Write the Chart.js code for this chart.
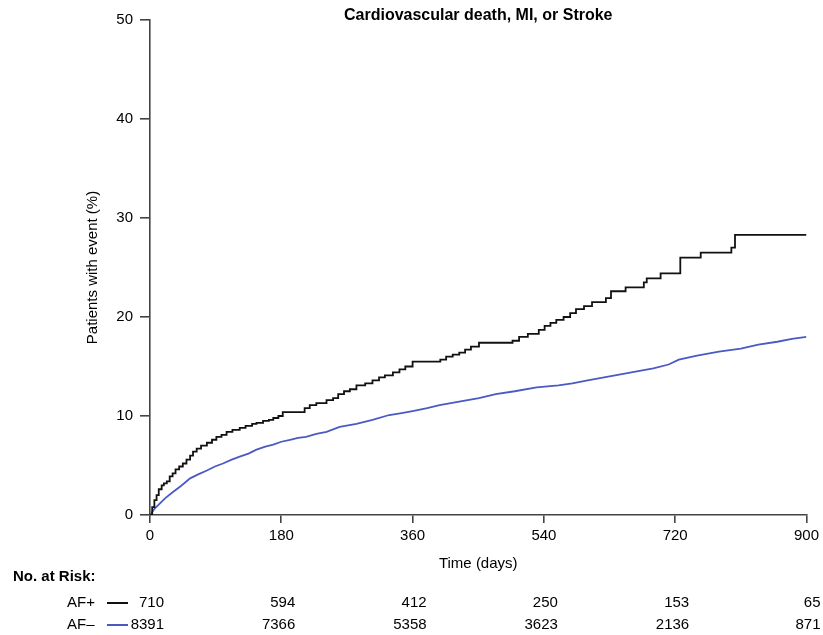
<!DOCTYPE html>
<html>
<head>
<meta charset="utf-8">
<script src="https://cdn.jsdelivr.net/npm/chart.js@4.4.1/dist/chart.umd.min.js"></script>
<style>
    html, body { margin: 0; padding: 0; background: #fff; }
    #wrap { width: 823px; height: 635px; position: relative; }
</style>
</head>
<body>
<div id="wrap"><canvas id="km-chart"></canvas></div>
<script>
(function () {
    "use strict";

    // Data
    const xTicks = [0, 180, 360, 540, 720, 900];
    const groups = ["AF+", "AF–"];

    const afPosDays = [0, 3, 6, 9, 12, 16, 19, 23, 27, 31, 35, 40, 45, 50, 55, 59, 64, 70, 78, 85, 91, 98, 105, 113, 123, 131, 140, 146, 155, 163, 169, 176, 182, 212, 219, 228, 242, 251, 258, 266, 274, 283, 295, 305, 314, 322, 333, 342, 350, 360, 398, 406, 415, 424, 432, 440, 451, 497, 506, 518, 533, 541, 549, 557, 567, 576, 584, 595, 606, 625, 632, 652, 677, 681, 700, 727, 755, 797, 802, 900];
    const afPosPct = [0, 0.8, 1.5, 2.0, 2.6, 3.0, 3.2, 3.4, 3.9, 4.2, 4.6, 4.9, 5.2, 5.6, 6.0, 6.4, 6.7, 7.0, 7.3, 7.6, 7.9, 8.1, 8.4, 8.6, 8.8, 9.0, 9.2, 9.3, 9.5, 9.6, 9.8, 10.0, 10.4, 10.8, 11.1, 11.3, 11.6, 11.8, 12.2, 12.5, 12.7, 13.1, 13.3, 13.6, 13.9, 14.1, 14.4, 14.7, 15.0, 15.5, 15.7, 16.0, 16.2, 16.4, 16.7, 17.0, 17.4, 17.6, 18.0, 18.3, 18.7, 19.1, 19.4, 19.7, 20.0, 20.4, 20.8, 21.1, 21.5, 21.9, 22.6, 23.0, 23.5, 23.9, 24.4, 26.0, 26.5, 27.0, 28.3, 28.3];

    const afNegDays = [0, 7, 14, 21, 31, 42, 55, 66, 78, 89, 100, 112, 123, 135, 146, 158, 169, 180, 192, 203, 214, 228, 242, 260, 283, 305, 328, 345, 360, 380, 397, 420, 451, 474, 500, 530, 560, 579, 600, 630, 660, 690, 711, 725, 750, 780, 810, 834, 860, 880, 900];
    const afNegPct = [0, 0.7, 1.2, 1.7, 2.3, 2.9, 3.7, 4.1, 4.5, 4.9, 5.2, 5.6, 5.9, 6.2, 6.6, 6.9, 7.1, 7.4, 7.6, 7.8, 7.9, 8.2, 8.4, 8.9, 9.2, 9.6, 10.1, 10.3, 10.5, 10.8, 11.1, 11.4, 11.8, 12.2, 12.5, 12.9, 13.1, 13.3, 13.6, 14.0, 14.4, 14.8, 15.2, 15.7, 16.1, 16.5, 16.8, 17.2, 17.5, 17.8, 18.0];

    const atRiskPos = [710, 594, 412, 250, 153, 65];
    const atRiskNeg = [8391, 7366, 5358, 3623, 2136, 871];

    const black = "#111111";
    const blue = "#4a5ac4";
    const axisColor = "#444444";
    const font = "'Liberation Sans', Arial, sans-serif";

    const toPoints = (xs, ys) => xs.map((x, i) => ({ x: x, y: ys[i] }));

    // Extra text: title, axis titles, risk table
    const annotations = {
        id: "annotations",
        afterDraw(chart) {
            const ctx = chart.ctx;
            const area = chart.chartArea;
            const xs = chart.scales.x;
            ctx.save();
            ctx.fillStyle = "#000";
            ctx.textBaseline = "middle";

            ctx.font = "bold 16px " + font;
            ctx.textAlign = "center";
            ctx.fillText("Cardiovascular death, MI, or Stroke", (area.left + area.right) / 2, 16);

            ctx.font = "15px " + font;
            ctx.fillText("Time (days)", (area.left + area.right) / 2, 564);

            ctx.save();
            ctx.translate(93, (area.top + area.bottom) / 2);
            ctx.rotate(-Math.PI / 2);
            ctx.fillText("Patients with event (%)", 0, 0);
            ctx.restore();

            ctx.textAlign = "left";
            ctx.font = "bold 15px " + font;
            ctx.fillText("No. at Risk:", 13, 577);

            const rows = [
                { label: groups[0], color: black, y: 603, values: atRiskPos },
                { label: groups[1], color: blue, y: 625, values: atRiskNeg },
            ];
            ctx.font = "15px " + font;
            rows.forEach((row) => {
                ctx.textAlign = "left";
                ctx.fillStyle = "#000";
                ctx.fillText(row.label, 67, row.y);
                ctx.strokeStyle = row.color;
                ctx.lineWidth = 2;
                ctx.beginPath();
                ctx.moveTo(107, row.y);
                ctx.lineTo(128, row.y);
                ctx.stroke();
                ctx.textAlign = "right";
                row.values.forEach((v, i) => {
                    ctx.fillText(String(v), xs.getPixelForValue(xTicks[i]) + 14, row.y);
                });
            });
            ctx.restore();
        },
    };

    const chart = new Chart(document.getElementById("km-chart"), {
        type: "line",
        data: {
            datasets: [
                {
                    label: groups[0],
                    data: toPoints(afPosDays, afPosPct),
                    borderColor: black,
                    borderWidth: 1.8,
                    stepped: "before",
                    pointRadius: 0,
                    fill: false,
                },
                {
                    label: groups[1],
                    data: toPoints(afNegDays, afNegPct),
                    borderColor: blue,
                    borderWidth: 1.8,
                    pointRadius: 0,
                    tension: 0,
                    fill: false,
                },
            ],
        },
        options: {
            responsive: true,
            maintainAspectRatio: false,
            animation: false,
            layout: {
                padding: { left: 0, top: 20, right: 15, bottom: 85 },
            },
            plugins: {
                legend: { display: false },
                tooltip: { enabled: false },
            },
            scales: {
                x: {
                    type: "linear",
                    min: 0,
                    max: 900,
                    afterBuildTicks: (s) => {
                        s.ticks = xTicks.map((v) => ({ value: v }));
                    },
                    afterFit: (s) => {
                        s.height = 35;
                    },
                    border: { color: axisColor, width: 1.6 },
                    grid: {
                        drawOnChartArea: false,
                        color: axisColor,
                        lineWidth: 1.6,
                        tickLength: 8,
                    },
                    ticks: {
                        color: "#000",
                        font: { family: font, size: 15 },
                        padding: 4,
                        maxRotation: 0,
                    },
                },
                y: {
                    min: 0,
                    max: 50,
                    afterFit: (s) => {
                        s.width = 150;
                    },
                    border: { color: axisColor, width: 1.6 },
                    grid: {
                        drawOnChartArea: false,
                        color: axisColor,
                        lineWidth: 1.6,
                        tickLength: 10,
                    },
                    ticks: {
                        stepSize: 10,
                        color: "#000",
                        font: { family: font, size: 15 },
                        padding: 7,
                    },
                },
            },
        },
        plugins: [annotations],
    });
})();
</script>
</body>
</html>
